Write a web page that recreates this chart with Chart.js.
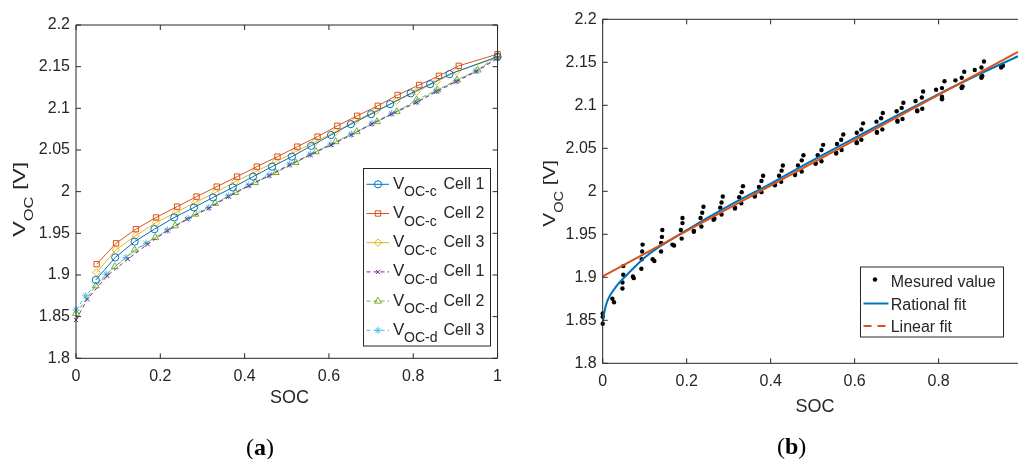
<!DOCTYPE html>
<html>
<head>
<meta charset="utf-8">
<script src="https://cdn.jsdelivr.net/npm/chart.js@4.4.1/dist/chart.umd.min.js"></script>
<style>
body { margin: 0; background: #fff; width: 1022px; height: 459px; overflow: hidden; position: relative; }
canvas { position: absolute; top: 0; }
#chartA { left: 0; }
#chartB { left: 511px; }
.cap { position: absolute; font-family: "Liberation Serif", "DejaVu Serif", serif; font-size: 24px; line-height: 24px; color: #000; }
</style>
</head>
<body>
<canvas id="chartA" width="511" height="459"></canvas>
<canvas id="chartB" width="511" height="459"></canvas>
<div class="cap" style="left:246px;top:435px">(<b>a</b>)</div>
<div class="cap" style="left:777px;top:434px">(<b>b</b>)</div>
<script>
// (a) open circuit voltage vs SOC, charge (c) and discharge (d)
const socC1 = [0.047, 0.093, 0.139, 0.186, 0.233, 0.28, 0.325, 0.372, 0.42, 0.465, 0.512, 0.558, 0.605, 0.652, 0.7, 0.745, 0.794, 0.84, 0.886, 1.0];
const vocC1 = [1.894, 1.921, 1.94, 1.955, 1.969, 1.981, 1.993, 2.005, 2.018, 2.03, 2.042, 2.055, 2.068, 2.081, 2.093, 2.105, 2.118, 2.129, 2.141, 2.162];
const socC2 = [0.049, 0.095, 0.142, 0.19, 0.24, 0.286, 0.334, 0.382, 0.429, 0.478, 0.525, 0.573, 0.62, 0.667, 0.716, 0.763, 0.814, 0.861, 0.908, 1.0];
const vocC2 = [1.913, 1.938, 1.955, 1.969, 1.982, 1.994, 2.006, 2.018, 2.03, 2.042, 2.054, 2.066, 2.079, 2.091, 2.103, 2.116, 2.128, 2.139, 2.151, 2.165];
const socC3 = [0.049, 0.094, 0.141, 0.19, 0.237, 0.283, 0.331, 0.378, 0.426, 0.474, 0.521, 0.568, 0.616, 0.663, 0.712, 0.76, 0.808, 0.855, 0.902, 1.0];
const vocC3 = [1.903, 1.93, 1.947, 1.963, 1.975, 1.987, 1.999, 2.012, 2.024, 2.036, 2.048, 2.06, 2.072, 2.085, 2.097, 2.109, 2.12, 2.132, 2.144, 2.161];
const socD1 = [0, 0.027, 0.074, 0.123, 0.17, 0.217, 0.264, 0.315, 0.362, 0.41, 0.458, 0.507, 0.556, 0.605, 0.653, 0.702, 0.749, 0.808, 0.855, 0.902, 0.949, 1.0];
const vocD1 = [1.846, 1.871, 1.899, 1.919, 1.937, 1.953, 1.967, 1.98, 1.994, 2.007, 2.019, 2.032, 2.044, 2.056, 2.068, 2.081, 2.093, 2.107, 2.12, 2.132, 2.144, 2.16];
const socD2 = [0, 0.047, 0.092, 0.139, 0.188, 0.235, 0.283, 0.33, 0.378, 0.425, 0.474, 0.521, 0.569, 0.616, 0.666, 0.714, 0.761, 0.808, 0.857, 0.904, 0.953, 1.0];
const vocD2 = [1.854, 1.887, 1.91, 1.93, 1.945, 1.959, 1.973, 1.986, 1.999, 2.011, 2.023, 2.035, 2.048, 2.06, 2.072, 2.084, 2.096, 2.11, 2.122, 2.134, 2.146, 2.163];
const socD3 = [0, 0.023, 0.072, 0.119, 0.166, 0.217, 0.266, 0.315, 0.362, 0.41, 0.458, 0.507, 0.556, 0.605, 0.653, 0.702, 0.749, 0.808, 0.855, 0.902, 0.949, 1.0];
const vocD3 = [1.858, 1.875, 1.901, 1.921, 1.938, 1.954, 1.968, 1.981, 1.995, 2.008, 2.02, 2.033, 2.045, 2.057, 2.069, 2.082, 2.094, 2.108, 2.121, 2.133, 2.145, 2.161];

const legendSubs = ['OC-c', 'OC-c', 'OC-c', 'OC-d', 'OC-d', 'OC-d'];
const legendCells = ['Cell 1', 'Cell 2', 'Cell 3', 'Cell 1', 'Cell 2', 'Cell 3'];

// (b) fits
const fitSoc = [0, 0.005, 0.01, 0.02, 0.03, 0.04, 0.05, 0.07, 0.1, 0.13, 0.16, 0.2, 0.3, 0.4, 0.5, 0.6, 0.7, 0.8, 0.9, 0.989];
const rationalFit = [1.848, 1.862, 1.871, 1.881, 1.888, 1.894, 1.899, 1.909, 1.923, 1.934, 1.943, 1.955, 1.983, 2.009, 2.036, 2.062, 2.088, 2.113, 2.137, 2.157];
const linearSoc = [0, 0.989];
const linearFit = [1.901, 2.162];
const legendB = ['Mesured value', 'Rational fit', 'Linear fit'];

const xMaxB = 0.989;
const ink = '#262626';
const sans = '"Liberation Sans", Arial, sans-serif';
const colors = ['#0072BD', '#D95319', '#EDB120', '#7E2F8E', '#77AC30', '#4DBEEE'];

const pts = (xs, ys) => xs.map((x, i) => ({ x: x, y: ys[i] }));
const fmt = v => String(+v.toFixed(2));

function drawVoc(ctx, cx, cy, len) {
  ctx.save();
  ctx.translate(cx, cy);
  ctx.rotate(-Math.PI / 2);
  const big = '17px ' + sans, small = '12px ' + sans;
  ctx.font = big;
  const wV = ctx.measureText('V').width, wB = ctx.measureText(' [V]').width;
  ctx.font = small;
  const wS = ctx.measureText('OC').width;
  const w = wV + wS + wB;
  ctx.scale(len / w, 1);
  ctx.fillStyle = ink;
  ctx.textBaseline = 'alphabetic';
  ctx.textAlign = 'left';
  let x = -w / 2;
  ctx.font = big; ctx.fillText('V', x, 0); x += wV;
  ctx.font = small; ctx.fillText('OC', x, 8); x += wS;
  ctx.font = big; ctx.fillText(' [V]', x, 0);
  ctx.restore();
}

// MATLAB style box with inward ticks, plus axis titles
const frame = {
  id: 'frame',
  afterDraw(chart, args, o) {
    const ctx = chart.ctx, a = chart.chartArea;
    const xs = chart.scales.x, ys = chart.scales.y;
    ctx.save();
    ctx.strokeStyle = ink;
    ctx.lineWidth = 1;
    ctx.beginPath();
    ctx.moveTo(a.left, a.top); ctx.lineTo(a.left, a.bottom);
    ctx.moveTo(a.left, a.bottom); ctx.lineTo(a.right, a.bottom);
    ctx.moveTo(a.left, a.top); ctx.lineTo(a.right, a.top);
    if (o.rightBorder) { ctx.moveTo(a.right, a.top); ctx.lineTo(a.right, a.bottom); }
    xs.ticks.forEach(t => {
      const px = xs.getPixelForValue(t.value);
      ctx.moveTo(px, a.bottom); ctx.lineTo(px, a.bottom - 5);
      ctx.moveTo(px, a.top); ctx.lineTo(px, a.top + 5);
    });
    ys.ticks.forEach(t => {
      const py = ys.getPixelForValue(t.value);
      ctx.moveTo(a.left, py); ctx.lineTo(a.left + 5, py);
      if (o.rightBorder) { ctx.moveTo(a.right, py); ctx.lineTo(a.right - 5, py); }
    });
    ctx.stroke();
    ctx.fillStyle = ink;
    ctx.font = '18px ' + sans;
    ctx.textAlign = 'center';
    ctx.textBaseline = 'alphabetic';
    ctx.fillText('SOC', o.socX, o.socY);
    drawVoc(ctx, o.vocX, o.vocY, o.vocLen);
    ctx.restore();
  }
};

const legendA = {
  id: 'legendA',
  afterDraw(chart) {
    const ctx = chart.ctx;
    ctx.save();
    ctx.fillStyle = '#fff';
    ctx.fillRect(363.5, 168.5, 127, 177.5);
    ctx.strokeStyle = ink;
    ctx.lineWidth = 1;
    ctx.strokeRect(363.5, 168.5, 127, 177.5);
    chart.data.datasets.forEach((ds, i) => {
      const y = 184.3 + i * 29.2;
      ctx.strokeStyle = ds.borderColor;
      ctx.lineWidth = 1;
      ctx.setLineDash(ds.borderDash || []);
      ctx.beginPath(); ctx.moveTo(366.5, y); ctx.lineTo(389, y); ctx.stroke();
      ctx.setLineDash([]);
      ctx.fillStyle = 'rgba(0,0,0,0)';
      Chart.helpers.drawPoint(ctx, { pointStyle: ds.pointStyle, radius: ds.pointRadius, rotation: 0, borderWidth: 1 }, 378, y);
      ctx.fillStyle = ink;
      ctx.textAlign = 'left';
      ctx.textBaseline = 'alphabetic';
      ctx.font = '17px ' + sans;
      ctx.fillText('V', 393, y + 4.5);
      ctx.font = '14px ' + sans;
      ctx.fillText(legendSubs[i], 404, y + 12);
      ctx.font = '16px ' + sans;
      ctx.fillText(legendCells[i], 443.5, y + 4.5);
    });
    ctx.restore();
  }
};

const legendBPlugin = {
  id: 'legendB',
  afterDraw(chart) {
    const ctx = chart.ctx;
    const rows = [281, 303.5, 326];
    ctx.save();
    ctx.fillStyle = '#fff';
    ctx.fillRect(349.5, 267, 143, 70);
    ctx.strokeStyle = ink;
    ctx.lineWidth = 1;
    ctx.strokeRect(349.5, 267, 143, 70);
    // dot
    ctx.fillStyle = '#000';
    ctx.beginPath(); ctx.arc(364, rows[0] - 1.5, 2.2, 0, Math.PI * 2); ctx.fill();
    ctx.lineWidth = 2;
    ctx.strokeStyle = colors[0];
    ctx.beginPath(); ctx.moveTo(352.5, rows[1]); ctx.lineTo(377.5, rows[1]); ctx.stroke();
    ctx.strokeStyle = colors[1];
    ctx.setLineDash([8, 6]);
    ctx.beginPath(); ctx.moveTo(352.5, rows[2]); ctx.lineTo(377.5, rows[2]); ctx.stroke();
    ctx.setLineDash([]);
    ctx.fillStyle = ink;
    ctx.font = '16px ' + sans;
    ctx.textAlign = 'left';
    ctx.textBaseline = 'alphabetic';
    legendB.forEach((t, i) => ctx.fillText(t, 379.7, rows[i] + 6));
    ctx.restore();
  }
};

const tickFont = { family: sans, size: 16 };

function lineSet(label, xs, ys, color, style, radius, dashed) {
  return {
    label: label,
    data: pts(xs, ys),
    borderColor: color,
    backgroundColor: 'rgba(0,0,0,0)',
    borderWidth: 1,
    borderDash: dashed ? [4, 3] : [],
    pointStyle: style,
    pointRadius: radius,
    pointBorderWidth: 1,
    pointBorderColor: color,
    pointBackgroundColor: 'rgba(0,0,0,0)',
    tension: 0,
    clip: false
  };
}

new Chart(document.getElementById('chartA'), {
  type: 'line',
  data: {
    datasets: [
      lineSet('VOC-c Cell 1', socC1, vocC1, colors[0], 'circle', 3.6, false),
      lineSet('VOC-c Cell 2', socC2, vocC2, colors[1], 'rect', 3.8, false),
      lineSet('VOC-c Cell 3', socC3, vocC3, colors[2], 'rectRot', 3.8, false),
      lineSet('VOC-d Cell 1', socD1, vocD1, colors[3], 'crossRot', 3, true),
      lineSet('VOC-d Cell 2', socD2, vocD2, colors[4], 'triangle', 4, true),
      lineSet('VOC-d Cell 3', socD3, vocD3, colors[5], 'star', 3.6, true)
    ]
  },
  options: {
    responsive: false,
    animation: false,
    events: [],
    layout: { padding: { left: 0, top: 25, right: 9.3, bottom: 0 } },
    plugins: {
      legend: { display: false },
      tooltip: { enabled: false },
      frame: { rightBorder: true, socX: 289.6, socY: 403, vocX: 25, vocY: 199.2, vocLen: 75 }
    },
    scales: {
      x: {
        type: 'linear', min: 0, max: 1,
        ticks: { stepSize: 0.2, padding: 9, font: tickFont, color: ink, callback: fmt, maxRotation: 0, autoSkip: false, includeBounds: false },
        grid: { display: false, drawTicks: false },
        border: { display: false },
        afterFit: s => { s.height = 100.7; }
      },
      y: {
        type: 'linear', min: 1.8, max: 2.2,
        ticks: { stepSize: 0.05, padding: 6, font: tickFont, color: ink, callback: fmt, autoSkip: false, includeBounds: false },
        grid: { display: false, drawTicks: false },
        border: { display: false },
        afterFit: s => { s.width = 76; }
      }
    }
  },
  plugins: [frame, legendA]
});

const measuredSoc = [].concat(socC1, socC2, socC3, socD1, socD2, socD3);
const measuredVoc = [].concat(vocC1, vocC2, vocC3, vocD1, vocD2, vocD3);
const measured = pts(measuredSoc, measuredVoc).filter(p => p.x <= xMaxB);

new Chart(document.getElementById('chartB'), {
  type: 'line',
  data: {
    datasets: [
      {
        label: 'Mesured value', data: measured, showLine: false,
        pointRadius: 2.2, pointBorderWidth: 0, pointBackgroundColor: '#000', borderColor: '#000',
        order: 3, clip: false
      },
      {
        label: 'Rational fit', data: pts(fitSoc, rationalFit),
        borderColor: colors[0], borderWidth: 2, pointRadius: 0, cubicInterpolationMode: 'monotone', order: 2
      },
      {
        label: 'Linear fit', data: pts(linearSoc, linearFit),
        borderColor: colors[1], borderWidth: 2, pointRadius: 0, tension: 0, order: 1
      }
    ]
  },
  options: {
    responsive: false,
    animation: false,
    events: [],
    layout: { padding: { left: 0, top: 19.3, right: 0, bottom: 0 } },
    plugins: {
      legend: { display: false },
      tooltip: { enabled: false },
      frame: { rightBorder: false, socX: 304, socY: 411.5, vocX: 44, vocY: 193.3, vocLen: 66.7 }
    },
    scales: {
      x: {
        type: 'linear', min: 0, max: xMaxB,
        ticks: { stepSize: 0.2, padding: 9, font: tickFont, color: ink, callback: fmt, maxRotation: 0, autoSkip: false, includeBounds: false },
        grid: { display: false, drawTicks: false },
        border: { display: false },
        afterFit: s => { s.height = 95.7; }
      },
      y: {
        type: 'linear', min: 1.8, max: 2.2,
        ticks: { stepSize: 0.05, padding: 6, font: tickFont, color: ink, callback: fmt, autoSkip: false, includeBounds: false },
        grid: { display: false, drawTicks: false },
        border: { display: false },
        afterFit: s => { s.width = 91.7; }
      }
    }
  },
  plugins: [frame, legendBPlugin]
});
</script>
</body>
</html>
